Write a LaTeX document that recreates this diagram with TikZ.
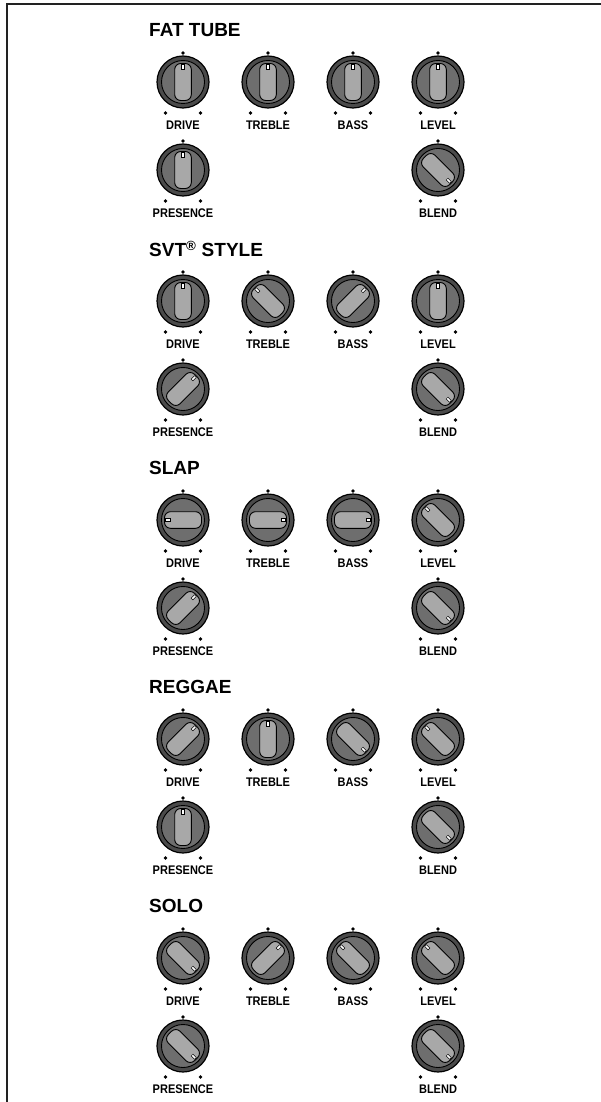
\documentclass[tikz,border=0pt]{standalone}
\usepackage{fontspec}
\setmainfont{Liberation Sans}
\definecolor{knobouter}{HTML}{4A4A4A}
\definecolor{knobinner}{HTML}{6E6E6E}
\definecolor{knobptr}{HTML}{A8A8A8}
\definecolor{framec}{HTML}{222222}
\tikzset{
  knob/.pic={
    \path[draw=black, fill=knobouter, line width=1.2pt] (0,0) circle (26);
    \path[draw=black, fill=knobinner, line width=0.9pt] (0,0) circle (21.5);
    \path[draw=black, fill=knobptr, line width=0.9pt, rounded corners=6pt] (-8.3,-18.5) rectangle (8.3,18.5);
    \path[draw=black, fill=white, line width=0.5pt] (-1.3,12.8) rectangle (1.3,17.6);
  },
  title/.style={anchor=west, inner sep=0pt, font=\fontsize{19}{20}\selectfont\bfseries},
  klabel/.style={inner sep=0pt, font=\fontsize{12.5}{13}\selectfont\bfseries},
  dotmark/.style={fill=black, draw=none},
}
\newcommand{\lbl}[1]{\scalebox{0.88}[1]{#1}}
\begin{document}
\begin{tikzpicture}[x=1pt,y=1pt]
\useasboundingbox (0,0) rectangle (601,-1102);
\draw[framec, line width=2pt] (7,-1102) -- (7,-4) -- (601,-4);
\foreach \s/\ttl/\a/\b/\c/\d/\e/\f in {
  0/{FAT TUBE}/90/90/90/90/90/-45,
  1/{SVT\textsuperscript{®} STYLE}/90/135/45/90/45/-45,
  2/{SLAP}/180/0/0/135/45/-45,
  3/{REGGAE}/45/90/-45/135/90/-45,
  4/{SOLO}/-45/45/135/135/-45/-45}{
  \pgfmathsetmacro{\yt}{30+219*\s}
  \pgfmathsetmacro{\ya}{\yt+52}
  \pgfmathsetmacro{\yb}{\yt+140}
  \node[title] (t\s) at (149,-\yt) {\ttl};
  \foreach \kx/\ky/\ang/\nm/\txt in {183/\ya/\a/drive/DRIVE, 268/\ya/\b/treble/TREBLE, 353/\ya/\c/bass/BASS, 438/\ya/\d/level/LEVEL, 183/\yb/\e/presence/PRESENCE, 438/\yb/\f/blend/BLEND}{
    \pgfmathsetmacro{\rot}{\ang-90}
    \pic[rotate=\rot] (k\s\nm) at (\kx,-\ky) {knob};
    \fill[dotmark] (\kx,-\ky+29) circle (1.8);
    \fill[dotmark] (\kx-17.5,-\ky-31) circle (1.8);
    \fill[dotmark] (\kx+17.5,-\ky-31) circle (1.8);
    \node[klabel] (l\s\nm) at (\kx,-\ky-43.5) {\lbl{\txt}};
  }
}
\end{tikzpicture}
\end{document}
